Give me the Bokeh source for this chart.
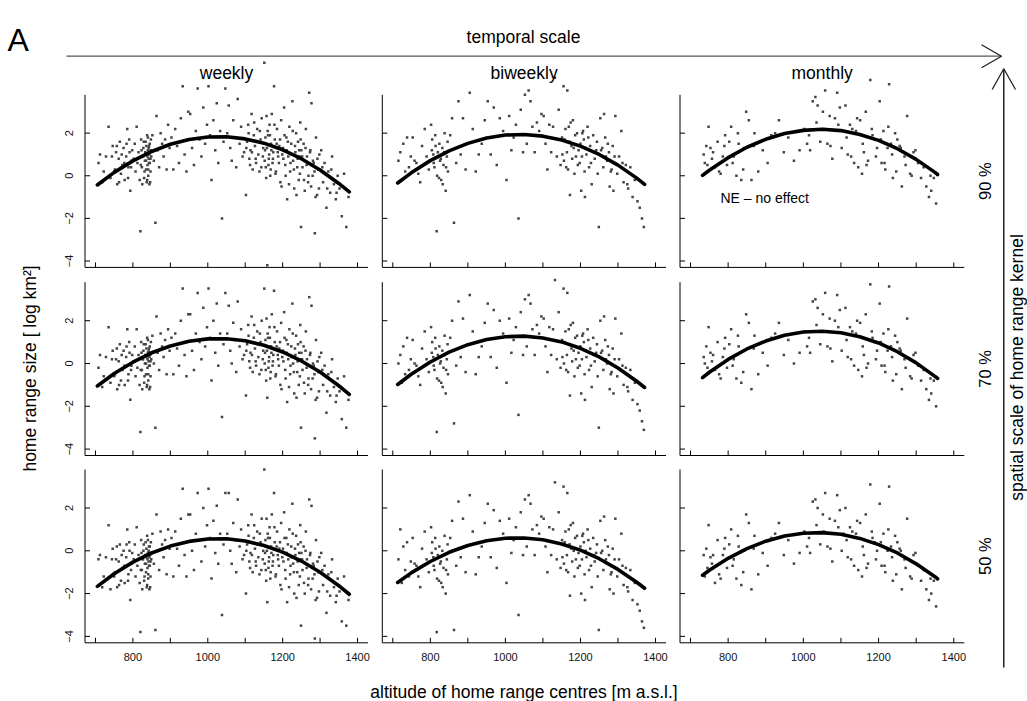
import math
import sys
from bokeh.plotting import figure
from bokeh.models import Range1d
from bokeh.core.properties import value
from bokeh.embed import file_html
from bokeh.resources import INLINE

# ---------------- data ----------------
scales = ["weekly", "biweekly", "monthly"]
kernels = ["90 %", "70 %", "50 %"]

alt_weekly = [
    708, 712, 718, 722, 728, 735, 740, 746,
    752, 755, 758, 762, 765, 768, 772, 775, 778, 782, 785, 788, 790, 793, 796, 798,
    802, 805, 807, 810, 812, 815, 818, 820, 822, 824, 826, 828, 830, 832, 834, 835, 836, 837, 838, 839,
    840, 841, 842, 843, 844, 845, 846, 847, 848, 849,
    852, 856, 860, 863, 866, 870, 874, 878, 882, 886, 890, 894, 898,
    903, 908, 913, 918, 923, 928, 933, 938, 943, 948,
    953, 958, 963, 968, 973, 978, 983, 988, 993, 998,
    1002, 1006, 1010, 1015, 1020, 1024, 1028, 1033, 1038, 1042, 1047,
    1052, 1056, 1060, 1064, 1068, 1072, 1076, 1080, 1085, 1089, 1093, 1097,
    1102, 1105, 1108, 1111, 1114, 1117, 1120, 1123, 1126, 1129, 1132, 1135, 1138, 1141, 1144, 1147,
    1151, 1153, 1155, 1157, 1159, 1161, 1163, 1165, 1167, 1169, 1171, 1173, 1175, 1177, 1179, 1182,
    1185, 1188, 1191, 1194, 1196, 1199,
    1201, 1204, 1207, 1210, 1212, 1215, 1218, 1220, 1223, 1226, 1228, 1231, 1234, 1236, 1239, 1241,
    1243, 1245, 1247, 1249, 1250,
    1253, 1256, 1259, 1262, 1265, 1268, 1271, 1274, 1277, 1280, 1283, 1286, 1289, 1292, 1295, 1298,
    1303, 1308, 1312, 1317, 1322, 1327, 1332, 1337, 1342, 1347,
    1352, 1358, 1364, 1370, 1376,
    744, 750, 757, 763, 770, 777, 783, 787, 791, 795,
    821, 823, 825, 827, 829, 831, 833, 835, 836, 838, 839, 840, 841, 842, 843, 844, 845, 846, 847, 848,
    1103, 1109, 1113, 1118, 1124, 1128, 1133, 1139, 1143, 1148,
    1152, 1154, 1156, 1158, 1160, 1162, 1164, 1166, 1168, 1170, 1174, 1178, 1181, 1184, 1187, 1190,
    1193, 1197,
    1202, 1205, 1208, 1211, 1214, 1217, 1221, 1224, 1227, 1230, 1233, 1237, 1240, 1244, 1246, 1248,
    1252, 1257, 1261, 1264, 1269, 1273, 1276, 1281, 1285, 1288, 1293, 1297,
    1306, 1319, 1330, 1344,
]
hr_weekly_90 = [
    0.6, 1.0, -0.3, 0.2, 0.9, 2.3, -0.1, 1.4,
    0.3, 1.1, -0.4, 0.8, 1.6, 0.1, 0.5, 1.3, -0.2, 0.9, 2.2, 0.4, 1.7, -0.7, 0.7, 1.2,
    0.8, 1.5, 0.2, 2.3, 0.6, 1.1, -0.2, -2.6, 1.7, 0.4, 0.9, 1.3, -0.1, 0.7, 1.6, 0.3, 1.0, -0.3, 1.9, 0.5,
    1.2, 0.0, 0.8, 1.4, -0.4, 0.6, 1.1, 0.2, 1.7, 0.9,
    1.9, 0.7, -2.2, 2.8, 1.2, 0.4, 2.0, 1.5, 0.9, 1.7, 0.3, 2.4, 1.3,
    1.8, 0.3, 2.2, 1.4, 0.6, 2.7, 4.2, 1.0, 0.2, 3.0,
    2.9, 1.3, 0.5, 2.1, 4.1, 1.7, 0.9, 3.2, 1.5, 2.4,
    4.2, 1.9, -0.2, 2.6, 1.2, 3.4, 0.6, 2.1, -2.0, 1.6, 4.1,
    2.0, 3.3, 1.3, 0.7, 2.6, 1.8, 0.4, 3.6, 1.5, 2.3, 0.9, 1.1,
    -0.9, 1.6, 2.4, 0.8, 1.2, 2.9, 0.3, 1.9, 1.4, 0.6, 2.2, 1.0, 0.2, 1.7, 2.7, 0.9,
    5.3, 1.2, 0.4, 2.8, -4.2, 1.9, 0.8, 2.4, 0.0, 1.5, 2.9, 0.6, 1.1, 4.2, 1.7, 0.2,
    2.2, 0.9, 1.4, -0.3, 2.6, 1.0,
    1.3, 3.2, 0.5, 1.8, -1.1, 0.9, 2.3, 0.2, 1.5, 3.5, 0.7, -0.6, 1.1, 2.0, 0.4, 1.6,
    -0.2, 0.9, 2.5, -2.4, 1.2,
    0.4, 1.5, -0.7, 2.2, 0.9, -0.3, 3.9, 1.2, 3.4, 0.0, 0.6, -2.7, 1.8, -0.9, 0.3, 1.0,
    1.2, -0.3, 0.6, -1.5, 0.2, -0.8, 0.9, -0.4, -1.1, 0.0,
    -0.6, -1.9, 0.1, -2.4, -1.0,
    0.9, 0.2, 1.4, -0.3, 1.0, 0.6, 1.5, -0.1, 1.1, 0.4,
    0.5, 1.2, -0.4, 0.9, 1.6, 0.2, 1.1, 0.7, 1.4, -0.2, 0.9, 1.8, 0.3, 1.3, 0.6, 1.0, 1.5, -0.3, 0.8, 1.2,
    1.3, 2.0, 0.5, 1.1, 2.5, 0.8, 1.6, 2.1, 0.4, 1.3,
    0.7, 1.8, -0.1, 1.3, 2.1, 0.5, 1.0, 1.9, 0.3, 1.2, 0.8, 2.4, 0.1, 1.5, 1.1, 0.6,
    1.7, -0.5,
    0.8, 1.9, 0.0, 1.2, 1.6, -0.4, 0.6, 1.0, 2.1, 0.3, 1.4, -0.9, 0.8, 1.2, 0.1, 1.7,
    0.9, -0.2, 1.3, 0.5, 0.0, 1.1, -0.5, 0.7, 0.2, -1.0, 0.8, -0.6,
    0.4, -0.6, 0.3, -0.8,
]
hr_weekly_70 = [
    -0.2, 0.4, -1.1, -0.6, 0.3, 1.7, -0.9, 0.6,
    -0.5, 0.2, -1.2, 0.1, 0.9, -0.8, -0.3, 0.6, -1.0, 0.3, 1.6, -0.5, 1.0, -1.7, -0.1, 0.4,
    0.1, 0.8, -0.6, 1.6, -0.2, 0.4, -1.0, -3.2, 1.0, -0.3, 0.2, 0.6, -0.9, 0.0, 0.9, -0.5, 0.3, -1.1, 1.2, -0.2,
    0.5, -0.8, 0.1, 0.7, -1.2, -0.1, 0.4, -0.6, 1.0, 0.2,
    1.3, 0.0, -3.0, 2.2, 0.5, -0.3, 1.4, 0.8, 0.3, 1.1, -0.5, 1.6, 0.6,
    1.2, -0.5, 1.4, 0.7, -0.1, 2.0, 3.5, 0.4, -0.6, 2.3,
    2.3, 0.6, -0.3, 1.4, 3.3, 1.0, 0.2, 2.6, 0.8, 1.7,
    3.5, 1.2, -0.8, 2.0, 0.5, 2.8, -0.1, 1.4, -2.5, 0.9, 3.3,
    1.4, 2.7, 0.6, 0.0, 1.9, 1.1, -0.4, 2.9, 0.8, 1.6, 0.2, 0.4,
    -1.5, 0.9, 1.8, 0.1, 0.5, 2.2, -0.4, 1.2, 0.7, -0.1, 1.5, 0.3, -0.5, 1.0, 2.0, 0.2,
    3.5, 0.5, -0.3, 2.1, -1.6, 1.2, 0.1, 1.7, -0.7, 0.8, 2.3, -0.1, 0.4, 3.4, 1.0, -0.5,
    1.5, 0.2, 0.7, -1.0, 1.9, 0.3,
    0.6, 2.4, -0.3, 1.1, -1.8, 0.2, 1.6, -0.5, 0.8, 2.8, 0.0, -1.4, 0.4, 1.3, -0.4, 0.9,
    -1.0, 0.2, 1.8, -3.0, 0.5,
    -0.3, 0.8, -1.4, 1.5, 0.2, -1.0, 3.1, 0.5, 2.7, -0.7, -0.1, -3.5, 1.1, -1.6, -0.4, 0.3,
    0.5, -1.0, -0.1, -2.3, -0.5, -1.5, 0.2, -1.1, -1.8, -0.7,
    -1.3, -2.6, -0.6, -3.0, -1.7,
    0.2, -0.6, 0.7, -1.0, 0.4, -0.1, 0.8, -0.8, 0.5, -0.3,
    -0.3, 0.5, -1.2, 0.2, 0.9, -0.6, 0.4, 0.0, 0.7, -1.0, 0.2, 1.1, -0.5, 0.6, -0.1, 0.3, 0.8, -1.1, 0.1, 0.5,
    0.6, 1.3, -0.2, 0.4, 1.8, 0.1, 0.9, 1.4, -0.3, 0.6,
    0.0, 1.1, -0.8, 0.6, 1.4, -0.2, 0.3, 1.2, -0.4, 0.5, 0.1, 1.7, -0.6, 0.8, 0.4, -0.1,
    1.0, -1.2,
    0.1, 1.2, -0.7, 0.5, 0.9, -1.1, -0.1, 0.3, 1.4, -0.4, 0.7, -1.6, 0.1, 0.5, -0.6, 1.0,
    0.2, -0.9, 0.6, -0.2, -0.7, 0.4, -1.2, 0.0, -0.5, -1.7, 0.1, -1.3,
    -0.3, -1.3, -0.4, -1.5,
]
hr_weekly_50 = [
    -0.4, -0.2, -1.7, -1.2, -0.3, 1.2, -1.8, 0.1,
    -1.0, -0.4, -1.7, -0.5, 0.3, -1.4, -0.8, 0.0, -1.5, -0.3, 1.0, -1.1, 0.4, -2.3, -0.6, -0.1,
    -0.4, 0.3, -1.2, 1.1, -0.7, -0.2, -1.5, -3.8, 0.5, -0.9, -0.4, 0.0, -1.4, -0.6, 0.4, -1.0, -0.3, -1.7, 0.7, -0.8,
    -0.1, -1.3, -0.5, 0.2, -1.8, -0.7, -0.2, -1.2, 0.4, -0.4,
    0.8, -0.6, -3.7, 1.7, 0.0, -0.9, 0.9, 0.3, -0.3, 0.5, -1.1, 1.0, 0.1,
    0.6, -1.2, 0.9, 0.1, -0.7, 1.5, 2.9, -0.2, -1.2, 1.7,
    1.7, 0.0, -0.9, 0.8, 2.7, 0.5, -0.5, 2.0, 0.2, 1.2,
    2.9, 0.6, -1.3, 1.4, -0.1, 2.1, -0.6, 0.8, -3.0, 0.3, 2.7,
    0.8, 2.7, 0.0, -0.6, 1.3, 0.5, -1.0, 2.4, 0.2, 1.0, -0.4, -0.2,
    -2.0, 0.3, 1.2, -0.5, -0.1, 1.7, -1.0, 0.6, 0.1, -0.7, 0.9, -0.3, -1.1, 0.4, 1.5, -0.4,
    3.8, -0.1, -0.9, 1.5, -2.4, 0.6, -0.5, 1.1, -1.3, 0.2, 1.7, -0.7, -0.2, 2.7, 0.4, -1.1,
    0.9, -0.4, 0.1, -1.6, 1.3, -0.3,
    0.1, 1.8, -0.9, 0.6, -2.4, -0.4, 1.0, -1.1, 0.2, 2.2, -0.6, -2.0, -0.2, 0.7, -1.0, 0.3,
    -1.6, -0.4, 1.2, -3.5, -0.1,
    -0.9, 0.2, -2.0, 0.9, -0.4, -1.6, 2.4, -0.1, 2.1, -1.3, -0.7, -4.1, 0.5, -2.2, -1.0, -0.3,
    -0.1, -1.6, -0.7, -2.9, -1.1, -2.1, -0.4, -1.7, -2.4, -1.3,
    -1.9, -3.3, -1.2, -3.5, -2.3,
    -0.4, -1.2, 0.2, -1.6, -0.2, -0.7, 0.3, -1.4, 0.0, -0.9,
    -0.9, -0.1, -1.8, -0.4, 0.3, -1.2, -0.2, -0.6, 0.1, -1.6, -0.4, 0.5, -1.1, 0.0, -0.7, -0.3, 0.2, -1.7, -0.5, -0.1,
    0.0, 0.7, -0.8, -0.2, 1.2, -0.5, 0.3, 0.8, -0.9, 0.0,
    -0.6, 0.5, -1.4, 0.0, 0.8, -0.8, -0.3, 0.6, -1.0, -0.1, -0.5, 1.1, -1.2, 0.2, -0.2, -0.7,
    0.4, -1.8,
    -0.5, 0.6, -1.3, -0.1, 0.3, -1.7, -0.7, -0.3, 0.8, -1.0, 0.1, -2.2, -0.5, -0.1, -1.2, 0.4,
    -0.4, -1.5, 0.0, -0.8, -1.3, -0.2, -1.8, -0.6, -1.1, -2.3, -0.5, -1.9,
    -0.9, -1.9, -1.0, -2.1,
]

alt_biweekly = [
    715, 720, 724, 728, 733, 738, 743, 748,
    753, 758, 763, 768, 773, 778, 785, 790, 796,
    802, 805, 808, 811, 814, 817, 820, 823, 826, 829, 832, 835, 838, 841, 844, 847,
    853, 858, 863, 869, 875, 881, 887, 894,
    905, 913, 921, 929, 937, 945,
    953, 961, 969, 977, 985, 994,
    1003, 1010, 1016, 1022, 1028, 1035, 1041, 1047,
    1052, 1057, 1062, 1067, 1072, 1078, 1084, 1090, 1096,
    1102, 1107, 1112, 1117, 1122, 1127, 1132, 1137, 1142, 1147,
    1152, 1155, 1158, 1162, 1165, 1169, 1172, 1176, 1180, 1184, 1188, 1191, 1195, 1198,
    1202, 1205, 1209, 1212, 1216, 1219, 1223, 1226, 1230, 1234, 1238, 1242, 1246, 1249,
    1253, 1258, 1263, 1268, 1273, 1278, 1283, 1288, 1293, 1298,
    1303, 1309, 1315, 1321, 1327, 1333, 1339, 1345,
    1352, 1358, 1364, 1369,
    804, 809, 813, 818, 824, 828, 833, 837, 842, 846,
    1151, 1156, 1160, 1164, 1167, 1171, 1174, 1178, 1182, 1186, 1193, 1200, 1204, 1207, 1211, 1214,
    1221, 1228, 1236, 1244,
    1255, 1261, 1266, 1271, 1276, 1281, 1286, 1291, 1312, 1325,
]
hr_biweekly_90 = [
    0.7, 1.1, -0.2, 1.5, 0.2, 1.8, 0.4, 0.9,
    1.8, 0.7, 0.6, 0.1, -0.3, 1.4, 2.2, 0.9, 0.3,
    2.4, 1.7, 1.0, 0.4, 1.4, -2.6, 1.1, -0.1, 0.7, -0.2, 1.3, 0.5, 2.0, -0.7, 0.9, 0.2,
    1.9, 2.7, -2.2, 0.6, 3.5, 1.0, 2.7, 0.3,
    3.9, 2.2, 0.2, 1.0, 1.5, 2.6,
    3.5, 1.0, 3.2, 0.5, 2.7, 2.1,
    -0.2, 2.8, 1.2, 1.8, 2.4, -2.0, 3.1, 1.1,
    3.8, 1.5, 4.0, 3.5, 2.3, 1.1, 2.5, 2.1, 2.9,
    2.8, 1.5, 0.3, 2.4, 1.1, 2.3, 4.6, 0.9, 3.1, 0.5,
    1.0, 4.2, 1.7, 0.4, 4.0, 2.3, -0.9, 1.4, 2.6, 0.1, 0.9, 2.0, 1.2, 0.6,
    -0.7, 2.0, 1.7, -1.0, 1.0, 2.3, 0.4, 1.4, -0.4, 1.9, 0.8, 1.2, 0.1, -2.4,
    2.7, 1.3, 2.9, 0.9, 1.5, -0.5, 0.3, -0.7, 2.8, 0.1,
    0.9, 2.1, -0.3, 0.5, -0.6, 0.4, -1.0, -0.2,
    -1.2, -1.5, -2.0, -2.4,
    1.2, 0.6, 1.9, 0.0, 1.5, 0.8, -0.4, 1.1, 0.4, 1.6,
    1.8, 0.7, 2.2, 1.1, 0.3, 1.6, 2.5, 0.8, 1.3, 1.9, 0.5, 1.5, 0.9, 2.1, 0.2, 1.3,
    1.8, 0.6, 1.1, 1.6,
    1.2, 0.4, 1.8, 0.7, 1.1, 0.2, 1.4, 0.9, 0.6, -0.4,
]
hr_biweekly_70 = [
    0.0, 0.4, -0.9, 0.8, -0.5, 1.2, -0.3, 0.2,
    1.1, 0.0, -0.1, -0.6, -1.0, 0.7, 1.5, 0.2, -0.4,
    1.7, 1.0, 0.3, -0.3, 0.7, -3.2, 0.4, -0.8, 0.0, -0.9, 0.6, -0.2, 1.3, -1.4, 0.2, -0.5,
    1.2, 2.0, -2.8, -0.1, 2.9, 0.3, 2.1, -0.4,
    3.2, 1.5, -0.5, 0.3, 0.8, 1.9,
    2.8, 0.3, 2.5, -0.2, 2.0, 1.4,
    -0.9, 2.1, 0.5, 1.1, 1.7, -2.4, 2.4, 0.4,
    3.0, 0.8, 3.2, 2.8, 1.6, 0.4, 1.8, 1.4, 2.2,
    2.1, 0.8, -0.4, 1.7, 0.4, 1.6, 3.9, 0.2, 2.4, -0.2,
    0.3, 3.5, 1.0, -0.3, 3.3, 1.6, -1.5, 0.7, 1.9, -0.6, 0.2, 1.3, 0.5, -0.1,
    -1.4, 1.3, 1.0, -1.7, 0.3, 1.6, -0.3, 0.7, -1.1, 1.2, 0.1, 0.5, -0.6, -3.0,
    2.0, 0.6, 2.2, 0.2, 0.8, -1.2, -0.4, -1.4, 2.1, -0.6,
    0.2, 1.4, -1.0, -0.2, -1.3, -0.3, -1.7, -0.9,
    -1.9, -2.2, -2.7, -3.1,
    0.5, -0.1, 1.2, -0.7, 0.8, 0.1, -1.1, 0.4, -0.3, 0.9,
    1.1, 0.0, 1.5, 0.4, -0.4, 0.9, 1.8, 0.1, 0.6, 1.2, -0.2, 0.8, 0.2, 1.4, -0.5, 0.6,
    1.1, -0.1, 0.4, 0.9,
    0.5, -0.3, 1.1, 0.0, 0.4, -0.5, 0.7, 0.2, -0.1, -1.1,
]
hr_biweekly_50 = [
    -0.4, 1.0, -1.5, 0.2, -0.9, 0.4, -1.2, -0.5,
    0.6, -0.6, -0.7, -1.2, -1.7, 0.1, 0.9, -0.4, -1.0,
    1.1, 0.4, -0.3, -0.9, 0.1, -3.8, -0.2, -1.4, -0.6, -1.5, 0.0, -0.8, 0.7, -2.0, -0.4, -1.1,
    0.6, 1.4, -3.7, -0.7, 2.3, -0.3, 1.5, -1.0,
    2.6, 0.9, -1.1, -0.3, 0.2, 1.3,
    2.2, -0.3, 1.9, -0.8, 1.4, 0.8,
    -1.5, 1.5, -0.1, 0.5, 1.1, -3.0, 1.8, -0.2,
    2.4, 0.2, 2.6, 2.2, 1.0, -0.2, 1.2, 0.8, 1.6,
    1.5, 0.2, -1.0, 1.1, -0.2, 1.0, 3.2, -0.4, 1.8, -0.8,
    -0.3, 3.0, 0.4, -0.9, 2.7, 1.0, -2.1, 0.1, 1.3, -1.2, -0.4, 0.7, -0.1, -0.7,
    -2.0, 0.7, 0.4, -2.3, -0.3, 1.0, -0.9, 0.1, -1.7, 0.6, -0.5, -0.1, -1.2, -3.7,
    1.4, 0.0, 1.6, -0.4, 0.2, -1.8, -1.0, -2.0, 1.5, -1.2,
    -0.4, 0.8, -1.6, -0.8, -1.9, -0.9, -2.3, -1.5,
    -2.5, -2.8, -3.3, -3.6,
    -0.1, -0.7, 0.6, -1.3, 0.2, -0.5, -1.7, -0.2, -0.9, 0.3,
    0.5, -0.6, 0.9, -0.2, -1.0, 0.3, 1.2, -0.5, 0.0, 0.6, -0.8, 0.2, -0.4, 0.8, -1.1, 0.0,
    0.5, -0.7, -0.2, 0.3,
    -0.1, -0.9, 0.5, -0.6, -0.2, -1.1, 0.1, -0.4, -0.7, -1.7,
]

alt_monthly = [
    735, 738, 742, 748, 753, 757, 765, 772, 780, 786, 792, 797,
    803, 808, 815, 822, 828, 835, 842, 848, 855, 862, 870, 880, 892,
    905, 915, 925, 935, 948, 960, 975, 990,
    1003, 1010, 1018, 1025, 1032, 1038, 1045, 1052, 1058, 1064, 1070, 1077, 1084, 1090, 1097,
    1102, 1107, 1112, 1118, 1124, 1130, 1135, 1140, 1146, 1151, 1156, 1161, 1166, 1172, 1178, 1184,
    1190, 1196,
    1203, 1208, 1213, 1218, 1224, 1228, 1233, 1238, 1244, 1250, 1256, 1262, 1269, 1276, 1284, 1293,
    1305, 1313, 1320, 1327, 1334, 1340, 1347, 1353,
    745, 760, 776, 790, 812, 826, 840, 868, 1015, 1035, 1055, 1072, 1093, 1115, 1127, 1143,
    1158, 1168, 1182, 1193, 1206, 1216, 1226, 1236, 1247, 1259, 1272, 1288, 1298, 1338,
]
hr_monthly_90 = [
    1.0, 0.6, 1.4, 2.3, 1.3, 0.8, 0.4, 1.6, 0.1, 0.9, 1.9, 0.5,
    1.6, 2.3, 0.9, 0.0, 1.5, -0.2, 1.3, 3.0, 2.6, -0.2, 2.0, 0.2, 1.2,
    0.6, 1.9, 2.0, 2.6, 1.1, 1.8, 0.7, 1.2,
    2.2, 1.5, 1.2, 3.5, 3.7, 3.3, 1.6, 3.0, 4.0, 1.5, 2.8, 0.8, 2.7, 3.9, 3.2,
    1.3, 2.1, 3.3, 1.0, 2.4, 2.2, 0.6, 2.1, 0.4, 2.6, 0.1, 1.1, 3.0, 0.7, 4.5, 1.9,
    1.7, 1.3,
    3.5, 0.6, 2.1, 0.3, 1.3, 4.3, 1.5, -0.1, 2.0, 1.7, 1.4, -0.5, 0.9, 2.8, 0.1, 1.1,
    0.6, -0.1, 0.4, -0.5, -1.0, -0.7, -0.1, -1.3,
    0.5, 1.1, 0.2, 1.4, 0.6, 2.0, 0.3, 1.4, 1.9, 2.5, 2.2, 1.4, 2.4, 1.8, 0.9, 2.7,
    1.5, 0.5, 2.2, 0.9, 1.7, 0.6, 2.3, 1.0, 0.2, 1.3, 0.5, 0.0, 1.2, 0.0,
]
hr_monthly_70 = [
    0.3, 0.0, 0.8, 1.7, 0.5, 0.1, -0.3, 1.0, -0.7, 0.3, 1.2, -0.2,
    0.9, 1.6, 0.2, -0.7, 0.8, -0.9, 0.6, 2.3, 1.9, -1.2, 1.3, -0.5, 0.5,
    -0.1, 1.2, 1.4, 1.9, 0.4, 1.1, 0.0, 0.5,
    1.5, 0.8, 0.5, 2.9, 3.0, 2.6, 0.9, 2.3, 3.3, 0.8, 2.1, 0.1, 2.0, 3.2, 2.5,
    0.6, 1.4, 2.6, 0.3, 1.7, 1.5, -0.1, 1.4, -0.3, 1.9, -0.6, 0.4, 2.3, 0.0, 3.7, 1.2,
    1.0, 0.6,
    2.8, -0.1, 1.4, -0.4, 0.6, 3.6, 0.8, -0.8, 1.3, 1.0, 0.7, -1.2, 0.2, 2.1, -0.6, 0.4,
    -0.1, -0.8, -0.3, -1.2, -1.7, -1.4, -0.8, -2.0,
    -0.2, 0.4, -0.5, 0.7, -0.1, 1.3, -0.4, 0.7, 1.2, 1.8, 1.5, 0.7, 1.7, 1.1, 0.2, 2.0,
    0.8, -0.2, 1.5, 0.2, 1.0, -0.1, 1.6, 0.3, -0.5, 0.6, -0.2, -0.7, 0.5, -0.7,
]
hr_monthly_50 = [
    -0.2, -1.2, 0.1, 1.2, -0.3, -0.6, -1.5, 0.5, -1.3, -0.2, 0.6, -0.8,
    0.3, 1.0, -0.4, -1.3, 0.2, -1.6, 0.0, 1.7, 1.3, -1.8, 0.7, -1.1, -0.1,
    -0.7, 0.6, 0.8, 1.3, -0.2, 0.5, -0.6, -0.1,
    0.9, 0.2, -0.1, 2.3, 2.4, 2.0, 0.3, 1.7, 2.7, 0.2, 1.5, -0.5, 1.4, 2.6, 1.9,
    0.0, 0.8, 2.0, -0.3, 1.1, 0.9, -0.7, 0.8, -0.9, 1.3, -1.2, -0.2, 1.7, -0.6, 3.1, 0.6,
    0.4, 0.0,
    2.2, -0.7, 0.8, -1.0, 0.0, 3.0, 0.2, -1.4, 0.7, 0.4, 0.1, -1.8, -0.4, 1.5, -1.2, -0.2,
    -0.7, -1.4, -0.9, -1.8, -2.3, -2.0, -1.4, -2.6,
    -0.8, -0.2, -1.1, 0.1, -0.7, 0.7, -1.0, 0.1, 0.6, 1.2, 0.9, 0.1, 1.1, 0.5, -0.4, 1.4,
    0.2, -0.8, 0.9, -0.4, 0.4, -0.7, 1.0, -0.3, -1.1, 0.0, -0.8, -1.3, -0.1, -1.3,
]

# fitted quadratic curves, read at these altitudes
fit_alt_weekly = [705, 750, 800, 850, 900, 950, 1000, 1050, 1100, 1150, 1200, 1250, 1300, 1350, 1378]
fit_weekly_90 = [-0.43, 0.16, 0.70, 1.14, 1.48, 1.70, 1.82, 1.83, 1.73, 1.53, 1.22, 0.80, 0.27, -0.36, -0.76]
fit_weekly_70 = [-1.05, -0.47, 0.06, 0.50, 0.82, 1.04, 1.15, 1.16, 1.06, 0.85, 0.54, 0.12, -0.40, -1.04, -1.44]
fit_weekly_50 = [-1.66, -1.07, -0.53, -0.10, 0.22, 0.44, 0.55, 0.56, 0.46, 0.25, -0.06, -0.48, -1.00, -1.63, -2.03]

fit_alt_biweekly = [713, 750, 800, 850, 900, 950, 1000, 1050, 1100, 1150, 1200, 1250, 1300, 1350, 1371]
fit_biweekly_90 = [-0.34, 0.15, 0.71, 1.17, 1.52, 1.77, 1.91, 1.94, 1.86, 1.68, 1.39, 1.00, 0.50, -0.11, -0.40]
fit_biweekly_70 = [-0.98, -0.49, 0.07, 0.53, 0.88, 1.12, 1.25, 1.28, 1.19, 1.01, 0.71, 0.31, -0.21, -0.83, -1.12]
fit_biweekly_50 = [-1.48, -1.02, -0.50, -0.07, 0.25, 0.47, 0.59, 0.60, 0.52, 0.32, 0.03, -0.37, -0.87, -1.47, -1.75]

fit_alt_monthly = [732, 750, 800, 850, 900, 950, 1000, 1050, 1100, 1150, 1200, 1250, 1300, 1350, 1357]
fit_monthly_90 = [0.02, 0.26, 0.85, 1.34, 1.71, 1.98, 2.13, 2.18, 2.12, 1.94, 1.66, 1.27, 0.77, 0.16, 0.06]
fit_monthly_70 = [-0.66, -0.41, 0.19, 0.68, 1.05, 1.32, 1.47, 1.51, 1.44, 1.25, 0.96, 0.55, 0.03, -0.60, -0.70]
fit_monthly_50 = [-1.14, -0.91, -0.35, 0.10, 0.45, 0.69, 0.82, 0.85, 0.77, 0.58, 0.29, -0.10, -0.61, -1.21, -1.31]

x_ticks = [700, 800, 900, 1000, 1100, 1200, 1300, 1400]
x_tick_labels = ["", "800", "", "1000", "", "1200", "", "1400"]
y_ticks = [-4, -2, 0, 2]
y_tick_labels = ["\u22124", "\u22122", "0", "2"]

# ---------------- layout ----------------
W, H = 1027, 701
FONT = value("Liberation Sans")
XLIM = (672.0, 1428.0)
YLIM = (-4.3, 3.8)
col_left = [84.5, 381.8, 679.5]
col_right = [367.5, 665.5, 963.8]
row_top = [94.3, 281.7, 469.0]
row_bottom = [266.9, 455.0, 642.3]
TICK = 5.0

alts = [alt_weekly, alt_biweekly, alt_monthly]
hrs = [[hr_weekly_90, hr_biweekly_90, hr_monthly_90],
       [hr_weekly_70, hr_biweekly_70, hr_monthly_70],
       [hr_weekly_50, hr_biweekly_50, hr_monthly_50]]
fit_alts = [fit_alt_weekly, fit_alt_biweekly, fit_alt_monthly]
fits = [[fit_weekly_90, fit_biweekly_90, fit_monthly_90],
        [fit_weekly_70, fit_biweekly_70, fit_monthly_70],
        [fit_weekly_50, fit_biweekly_50, fit_monthly_50]]

p = figure(width=W, height=H, x_range=Range1d(0, W), y_range=Range1d(H, 0),
           output_backend="svg", toolbar_location=None, min_border=0,
           x_axis_location=None, y_axis_location=None, title=None,
           outline_line_color=None, background_fill_color="white",
           border_fill_color="white")
p.grid.visible = False

kx = []
for c in range(3):
    k = (col_right[c] - col_left[c]) / (XLIM[1] - XLIM[0])
    s = XLIM[0] - col_left[c] / k
    p.extra_x_ranges["x%d" % c] = Range1d(s, s + W / k)
    kx.append(k)
ky = []
for r in range(3):
    k = (row_bottom[r] - row_top[r]) / (YLIM[1] - YLIM[0])
    top_val = YLIM[1] + row_top[r] / k
    p.extra_y_ranges["y%d" % r] = Range1d(top_val - H / k, top_val)
    ky.append(k)

for r in range(3):
    for c in range(3):
        xr, yr = "x%d" % c, "y%d" % r
        xs, ys = alts[c], hrs[r][c]
        if len(xs) != len(ys):
            print("length mismatch", r, c, len(xs), len(ys), file=sys.stderr)
        n = min(len(xs), len(ys))
        p.scatter(xs[:n], ys[:n], marker="square", size=2.5, fill_color="#444444",
                  line_color=None, x_range_name=xr, y_range_name=yr)
        p.line(fit_alts[c], fits[r][c], line_width=3.6, line_color="black",
               line_join="round", line_cap="round", x_range_name=xr, y_range_name=yr)
        # L-shaped box
        p.segment(x0=[XLIM[0], XLIM[0]], y0=[YLIM[0], YLIM[0]],
                  x1=[XLIM[0], XLIM[1]], y1=[YLIM[1], YLIM[0]],
                  line_color="black", line_width=1, x_range_name=xr, y_range_name=yr)
        # inward ticks
        p.segment(x0=x_ticks, y0=[YLIM[0]] * len(x_ticks), x1=x_ticks,
                  y1=[YLIM[0] + TICK / ky[r]] * len(x_ticks),
                  line_color="black", line_width=1, x_range_name=xr, y_range_name=yr)
        p.segment(x0=[XLIM[0]] * len(y_ticks), y0=y_ticks,
                  x1=[XLIM[0] + TICK / kx[c]] * len(y_ticks), y1=y_ticks,
                  line_color="black", line_width=1, x_range_name=xr, y_range_name=yr)
        if r == 2:
            p.text(x=x_ticks, y=[YLIM[0] - 13.7 / ky[r]] * len(x_ticks), text=x_tick_labels,
                   text_font=FONT, text_font_size=value("11px"), text_color="#111111",
                   text_align="center", text_baseline="middle",
                   x_range_name=xr, y_range_name=yr)
        if c == 0:
            p.text(x=[XLIM[0] - 16.0 / kx[c]] * len(y_ticks), y=y_ticks, text=y_tick_labels,
                   angle=math.pi / 2, text_font=FONT, text_font_size=value("11px"),
                   text_color="#111111", text_align="center", text_baseline="middle",
                   x_range_name=xr, y_range_name=yr)

# ---------------- page decorations ----------------
col_mid = [(col_left[c] + col_right[c]) / 2 for c in range(3)]
row_mid = [(row_top[r] + row_bottom[r]) / 2 for r in range(3)]

p.text(x=[7], y=[39.5], text=["A"], text_font=FONT, text_font_size=value("32px"),
       text_color="black", text_align="left", text_baseline="alphabetic")
p.text(x=[523], y=[36], text=["temporal scale"], text_font=FONT,
       text_font_size=value("17.5px"), text_color="black",
       text_align="center", text_baseline="middle")
p.text(x=col_mid, y=[72.5] * 3, text=scales, text_font=FONT,
       text_font_size=value("17.5px"), text_color="black",
       text_align="center", text_baseline="middle")
p.text(x=[984] * 3, y=row_mid, text=kernels, angle=math.pi / 2, text_font=FONT,
       text_font_size=value("16.5px"), text_color="black",
       text_align="center", text_baseline="middle")
p.text(x=[1016], y=[367], text=["spatial scale of home range kernel"], angle=math.pi / 2,
       text_font=FONT, text_font_size=value("17.5px"), text_color="black",
       text_align="center", text_baseline="middle")
p.text(x=[29], y=[368], text=["home range size [ log km\u00b2]"], angle=math.pi / 2,
       text_font=FONT, text_font_size=value("17.5px"), text_color="black",
       text_align="center", text_baseline="middle")
p.text(x=[523.5], y=[691], text=["altitude of home range centres [m a.s.l.]"],
       text_font=FONT, text_font_size=value("17.5px"), text_color="black",
       text_align="center", text_baseline="middle")
p.text(x=[720], y=[197.5], text=["NE \u2013 no effect"], text_font=FONT,
       text_font_size=value("14px"), text_color="black",
       text_align="left", text_baseline="middle")

# arrows
p.line([66, 1001], [55.7, 55.7], line_color="#555555", line_width=1.3)
p.line([981, 1001, 981], [44.3, 55.7, 67.3], line_color="#222222", line_width=1.3)
p.line([1003.3, 1003.3], [68.3, 667], line_color="black", line_width=1.3)
p.line([991.7, 1003.3, 1015], [89, 68.3, 89], line_color="#222222", line_width=1.3)

open("out.html", "w").write(file_html(p, INLINE))
